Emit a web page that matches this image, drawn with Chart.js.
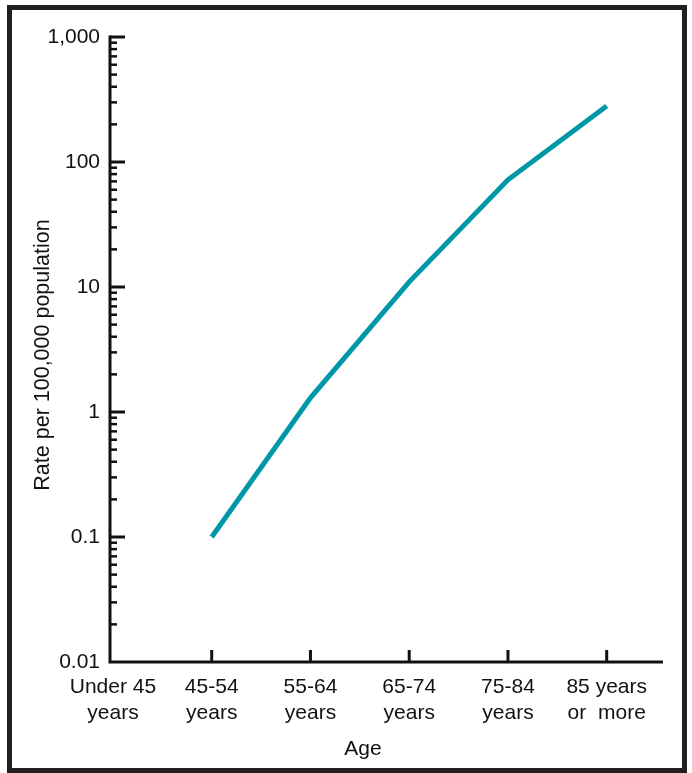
<!DOCTYPE html>
<html>
<head>
<meta charset="utf-8">
<script src="https://cdn.jsdelivr.net/npm/chart.js@4"></script>
<style>
    html, body { margin: 0; padding: 0; background: #fff; }
    #wrap { position: relative; width: 692px; height: 773px; }
</style>
</head>
<body>
<div id="wrap"><canvas id="rate-chart"></canvas></div>
<script>
// Data
const ageGroups = [
    ['Under 45', 'years'],
    ['45-54', 'years'],
    ['55-64', 'years'],
    ['65-74', 'years'],
    ['75-84', 'years'],
    ['85 years', 'or  more']
];
const rates = [null, 0.1, 1.3, 11, 72, 280];
const yTickValues = [0.01, 0.1, 1, 10, 100, 1000];
const yTickLabels = ['0.01', '0.1', '1', '10', '100', '1,000'];
const yTitle = 'Rate per 100,000 population';
const xTitle = 'Age';

const FONT = '"Liberation Sans", Arial, Helvetica, sans-serif';
const INK = '#111';

// Axes, ticks (drawn inward like the print version), titles and frame
const axesPlugin = {
    id: 'axesPlugin',
    afterDraw(chart) {
        const { ctx, chartArea: a, scales: { x, y } } = chart;
        ctx.save();

        // outer frame
        ctx.strokeStyle = '#231f20';
        ctx.lineWidth = 5;
        ctx.strokeRect(9.5, 7.5, 675, 763);

        ctx.strokeStyle = INK;
        ctx.lineWidth = 3;
        ctx.lineCap = 'butt';

        // axis lines
        ctx.beginPath();
        ctx.moveTo(a.left, a.top - 1.5);
        ctx.lineTo(a.left, a.bottom);
        ctx.lineTo(a.right, a.bottom);
        ctx.stroke();

        // major y ticks
        yTickValues.forEach(v => {
            if (v === yTickValues[0]) return;
            const py = y.getPixelForValue(v);
            ctx.beginPath();
            ctx.moveTo(a.left, py);
            ctx.lineTo(a.left + 15, py);
            ctx.stroke();
        });

        // minor y ticks (2..9 in each decade)
        ctx.lineWidth = 2.5;
        yTickValues.slice(0, -1).forEach(d => {
            for (let m = 2; m <= 9; m++) {
                const py = y.getPixelForValue(d * m);
                ctx.beginPath();
                ctx.moveTo(a.left, py);
                ctx.lineTo(a.left + 7, py);
                ctx.stroke();
            }
        });

        // x ticks pointing up
        ctx.lineWidth = 3;
        ageGroups.forEach((g, i) => {
            if (i === 0) return;
            const px = x.getPixelForValue(i);
            ctx.beginPath();
            ctx.moveTo(px, a.bottom);
            ctx.lineTo(px, a.bottom - 12);
            ctx.stroke();
        });

        // titles
        ctx.fillStyle = INK;
        ctx.font = '21px ' + FONT;
        ctx.textAlign = 'center';
        ctx.textBaseline = 'middle';
        ctx.fillText(xTitle, 363, 749);

        ctx.font = '21.5px ' + FONT;
        ctx.translate(43, 355);
        ctx.rotate(-Math.PI / 2);
        ctx.fillText(yTitle, 0, 0);

        ctx.restore();
    }
};

const ctx = document.getElementById('rate-chart').getContext('2d');
new Chart(ctx, {
    type: 'line',
    data: {
        datasets: [{
            data: rates.map((r, i) => ({ x: i, y: r })),
            borderColor: '#0097a9',
            borderWidth: 5,
            pointRadius: 0,
            pointHoverRadius: 0,
            tension: 0,
            spanGaps: false,
            clip: false
        }]
    },
    options: {
        responsive: true,
        maintainAspectRatio: false,
        animation: false,
        devicePixelRatio: 1,
        layout: { padding: { left: 10, top: 37, right: 29, bottom: 0 } },
        plugins: {
            legend: { display: false },
            tooltip: { enabled: false }
        },
        scales: {
            x: {
                type: 'linear',
                min: -0.03,
                max: 5.57,
                grid: { display: false, drawTicks: false },
                border: { display: false },
                afterBuildTicks: scale => {
                    scale.ticks = ageGroups.map((g, i) => ({ value: i }));
                },
                afterFit: scale => { scale.height = 111; },
                ticks: {
                    padding: 13,
                    color: INK,
                    maxRotation: 0,
                    autoSkip: false,
                    font: { family: FONT, size: 21, lineHeight: 1.2 },
                    callback: value => ageGroups[value] || ''
                }
            },
            y: {
                type: 'logarithmic',
                min: 0.01,
                max: 1000,
                grid: { display: false, drawTicks: false },
                border: { display: false },
                afterBuildTicks: scale => {
                    scale.ticks = yTickValues.map(v => ({ value: v }));
                },
                afterFit: scale => { scale.width = 100; },
                ticks: {
                    padding: 10,
                    color: INK,
                    autoSkip: false,
                    font: { family: FONT, size: 21 },
                    callback: value => {
                        const i = yTickValues.indexOf(value);
                        return i >= 0 ? yTickLabels[i] : '';
                    }
                }
            }
        }
    },
    plugins: [axesPlugin]
});
</script>
</body>
</html>
